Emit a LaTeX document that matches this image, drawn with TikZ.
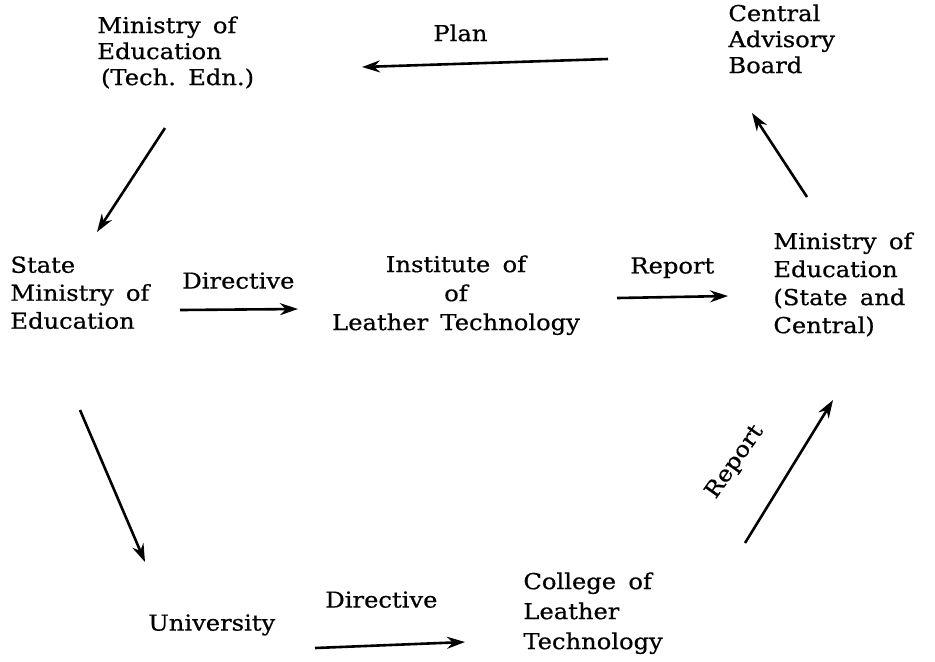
\documentclass[tikz,border=0pt]{standalone}
\usepackage{fontspec}
\setmainfont{DejaVu Serif}[FakeStretch=1.1, WordSpace=1.6, FakeBold=0.6]
\usetikzlibrary{arrows.meta,calc}
\tikzset{
  box/.style={inner sep=0pt, align=left, anchor=north west, font=\fontsize{11}{13}\selectfont},
  tag/.style={inner sep=0pt, anchor=north west, font=\fontsize{11}{13}\selectfont},
  flow/.style={-{Stealth[length=9pt,width=6pt]}, line width=1.3pt}
}
\begin{document}
\begin{tikzpicture}[x=0.5pt, y=-0.5pt]
  \useasboundingbox (0,0) rectangle (935,661);
  % offices
  \node[box] (tech) at (97,16) {Ministry of\\Education\\\,(Tech.\ Edn.)};
  \node[box] (cab) at (728,4) {Central\\Advisory\\Board};
  \node[box, font=\fontsize{11}{14}\selectfont] (state) at (10,256) {State\\Ministry of\\Education};
  \node[box, font=\fontsize{11}{14.5}\selectfont, align=center, anchor=north] (inst) at (456,255) {Institute of\\of\\Leather Technology};
  \node[box, font=\fontsize{11}{14}\selectfont] (moe) at (773,232) {Ministry of\\Education\\(State and\\Central)};
  \node[box] (univ) at (148,614) {University};
  \node[box, font=\fontsize{11}{15}\selectfont] (college) at (523,572) {College of\\Leather\\Technology};
  % labels
  \node[tag] (plan) at (433,24) {Plan};
  \node[tag] (dirA) at (182,272) {Directive};
  \node[tag] (repA) at (630,257) {Report};
  \node[tag] (dirB) at (325,591) {Directive};
  \node[tag, anchor=center, rotate=55] (repB) at (735,462) {Report};
  % arrows
  \draw[flow] ($(cab.north west)+(-120,55)$) -- ($(tech.north west)+(265,51)$);
  \draw[flow] ($(tech.north west)+(68,112)$) -- ($(state.north west)+(87,-24)$);
  \draw[flow] ($(state.north west)+(170,54)$) -- ($(inst.north)+(-158,54)$);
  \draw[flow] ($(inst.north)+(161,43)$) -- ($(moe.north west)+(-45,64)$);
  \draw[flow] ($(moe.north west)+(34,-35)$) -- ($(cab.north west)+(24,109)$);
  \draw[flow] ($(state.north west)+(70,154)$) -- ($(univ.north west)+(-3,-52)$);
  \draw[flow] ($(univ.north west)+(167,34)$) -- ($(college.north west)+(-58,70)$);
  \draw[flow] ($(college.north west)+(222,-29)$) -- ($(moe.north west)+(60,168)$);
\end{tikzpicture}
\end{document}
